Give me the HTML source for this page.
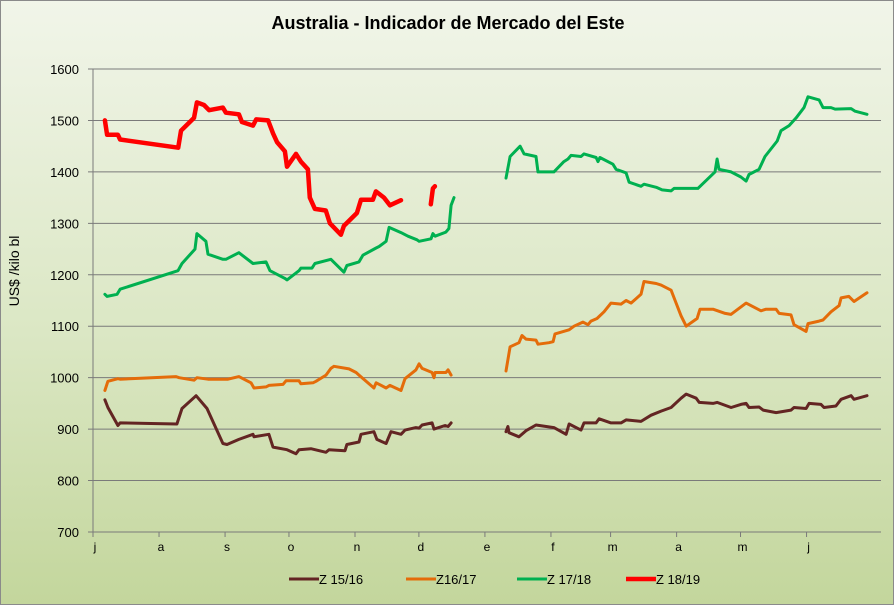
<!DOCTYPE html>
<html><head><meta charset="utf-8"><style>
body{margin:0;}
#c{width:894px;height:605px;position:relative;background:linear-gradient(#f1f5e9,#dbe7c4 55%,#c3d69c);border:1px solid #8a8a8a;box-sizing:border-box;font-family:"Liberation Sans",sans-serif;overflow:hidden}
</style></head><body>
<div id="c">
<svg id="s" width="894" height="605"></svg>
</div>
<script>
const monthLabels=["j","a","s","o","n","d","e","f","m","a","m","j"];
const monthStartDays=[0,31,62,92,123,153,184,215,243,274,304,335];
const yTicks=[700,800,900,1000,1100,1200,1300,1400,1500,1600];
const seriesNames=["Z 15/16","Z16/17","Z 17/18","Z 18/19"];
const seriesColors=["#632523","#e46c0a","#00b050","#ff0000"];
const z1516Days=[5.6,7,11.7,12.7,27.2,39.4,41.8,48.4,53.5,61,62.9,68.5,75.1,75.6,82.6,84.5,91.1,95.3,96.7,102.3,109.4,110.8,118.3,119.2,124.9,125.8,131.9,133.3,137.6,139.9,144.6,146.5,151.6,153.1,154.5,159.2,160.1,165.3,166.7,168.1,null,193.9,194.8,195.3,200,203.3,208,216.4,222.1,223.5,229.1,230.5,236.2,237.6,243.2,247.9,250.3,257.3,262,266.7,271.4,276.1,278.5,283.2,284.6,291.1,293,299.6,304.2,306.6,308,312.7,314.6,320.7,327.7,329.1,334.8,336.2,341.8,343.2,348.8,351.2,355.9,357.3,363.4];
const z1516Vals=[957,942,907,912,911,910,940,965,940,872,870,880,890,885,890,865,860,852,860,862,855,860,858,870,875,890,895,880,872,895,890,898,903,902,908,912,900,907,905,912,null,895,905,893,885,897,908,903,890,910,898,912,912,920,912,912,918,915,927,935,942,960,968,960,952,950,952,942,948,950,942,943,937,932,937,942,940,950,948,942,945,958,965,958,965];
const z1617Days=[5.6,7,11.7,12.7,39,40.4,47.4,48.8,54,63.4,68.5,74.2,75.6,81.2,82.6,89.2,90.6,96.7,97.6,103.3,104.7,109.4,111.7,113.1,120.2,123.5,124.9,131.9,132.9,137.6,139.4,144.6,146.5,151.6,153.1,154.5,159.2,160.1,160.6,165.7,166.7,168.1,null,193.9,195.8,200,201.4,203.3,208,208.9,214.1,216,216.9,223.5,225.8,230,232.4,233.8,236.6,239.9,243.2,247.9,250.3,252.6,257.3,258.7,264.4,266.7,271.4,273.3,276.1,278.5,283.6,285,291.1,296.8,299.5,306.6,313.6,316,320.7,322.1,327.7,329.1,334.8,335.7,340.9,342.7,346.5,350.3,351.2,354.9,357.3,363.4];
const z1617Vals=[975,993,998,997,1002,1000,995,1000,997,997,1002,990,980,982,985,987,994,994,988,990,993,1005,1018,1022,1017,1010,1005,980,990,980,985,975,998,1015,1027,1018,1010,1000,1010,1010,1015,1005,null,1013,1060,1068,1082,1075,1073,1065,1068,1070,1085,1093,1100,1108,1103,1110,1115,1128,1145,1143,1150,1145,1162,1187,1183,1180,1170,1150,1120,1100,1115,1133,1133,1125,1123,1145,1130,1133,1133,1125,1122,1103,1090,1105,1110,1112,1128,1140,1155,1158,1148,1165];
const z1718Days=[5.6,6.6,11.3,12.7,39.9,41.8,47.9,48.8,53,54,61,62.4,68.5,75.1,81.2,83.1,90.1,91.1,96.7,97.6,102.8,104.2,111.7,117.8,119.2,124.9,126.7,132.9,134.3,137.6,139,144.6,147.9,152.1,153.1,158.7,159.6,160.6,165.7,167.1,168.1,169.5,null,193.9,195.8,200.5,202.4,208,208.9,216.4,221.1,223,224.4,229.1,230.5,236.2,237.1,238,244.1,245.6,250.3,251.7,257.3,258.7,264.4,267.2,271.4,272.8,284,292,293,293.9,299.6,304.2,306.6,308,312.7,315.5,321.2,323,326.8,330.1,333.8,335.7,340.9,342.7,346.5,348.4,355.9,357.8,363.4];
const z1718Vals=[1162,1158,1162,1172,1208,1222,1250,1280,1265,1240,1230,1230,1243,1222,1225,1208,1193,1190,1208,1213,1213,1222,1230,1205,1218,1225,1238,1252,1255,1265,1292,1282,1275,1268,1265,1270,1280,1275,1283,1290,1335,1350,null,1388,1430,1450,1435,1430,1400,1400,1420,1425,1432,1430,1435,1428,1420,1428,1415,1405,1398,1380,1372,1376,1370,1365,1363,1368,1368,1400,1425,1405,1400,1390,1382,1395,1405,1430,1460,1480,1490,1505,1525,1546,1540,1525,1525,1522,1523,1518,1512];
const z1819Days=[5.6,6.6,11.7,12.7,40,41.3,47.4,48.8,52.1,54.5,61,62.4,68.5,69.9,75.1,76.6,82.2,84.5,86.4,90.1,91.1,95.3,97.6,100.9,101.8,104.2,109.3,111.2,116.4,117.8,123.9,125.8,131.4,132.8,136.6,139.4,144.6,null,158.6,159.6,160.5];
const z1819Vals=[1500,1472,1472,1463,1447,1480,1505,1535,1530,1520,1525,1515,1512,1497,1490,1502,1500,1475,1458,1440,1410,1435,1420,1405,1350,1328,1325,1300,1278,1295,1320,1346,1346,1362,1350,1335,1345,null,1337,1368,1372];

const L=92,R=880,T=68,B=531;
const xs=d=>L+d*2.13;
const ys=v=>B-(v-700)*(B-T)/900;
const NS="http://www.w3.org/2000/svg";
const svg=document.getElementById('s');
function mk(t,a){const e=document.createElementNS(NS,t);for(const k in a)e.setAttribute(k,a[k]);svg.appendChild(e);return e;}
let e=mk('text',{x:447,y:28,'text-anchor':'middle','font-size':18,'font-weight':'bold',fill:'#000'});e.textContent="Australia - Indicador de Mercado del Este";

yTicks.forEach(v=>{
 const g=mk('line',{x1:L-5,x2:R,y1:ys(v),y2:ys(v),stroke:'#7a7a7a','stroke-width':1});
 
 const t=mk('text',{x:78,y:ys(v)+5,'text-anchor':'end','font-size':13,fill:'#000'});t.textContent=v;
 
});
let ax=mk('line',{x1:L,x2:L,y1:T,y2:B,stroke:'#7a7a7a'});

monthLabels.forEach((m,i)=>{
 const x=xs(monthStartDays[i]);
 const tk=mk('line',{x1:x,x2:x,y1:B,y2:B+5,stroke:'#7a7a7a'});
 
 const t=mk('text',{x:x+2,y:B+19,'text-anchor':'middle','font-size':12,fill:'#000'});t.textContent=m;
 
});
e=mk('text',{x:0,y:0,'text-anchor':'middle','font-size':14,fill:'#000',transform:'translate(18,270) rotate(-90)'});e.textContent="US$ /kilo bl";

const allDays=[z1516Days,z1617Days,z1718Days,z1819Days],allVals=[z1516Vals,z1617Vals,z1718Vals,z1819Vals];
const widths=[3,3,3,4.5];
allDays.forEach((ds,si)=>{
 const vs=allVals[si];let d="",pen=false;
 ds.forEach((x,i)=>{if(x===null||vs[i]===null){pen=false;return;}d+=(pen?"L":"M")+xs(x).toFixed(1)+","+ys(vs[i]).toFixed(1);pen=true;});
 const p=mk('path',{d:d,fill:'none',stroke:seriesColors[si],'stroke-width':widths[si],'stroke-linejoin':'round','stroke-linecap':'round'});
 
});
const legX=[288,405,516,625];
seriesNames.forEach((n,i)=>{
 const l=mk('line',{x1:legX[i],x2:legX[i]+30,y1:578,y2:578,stroke:seriesColors[i],'stroke-width':widths[i]});
 
 const t=mk('text',{x:legX[i]+30,y:583,'font-size':13,fill:'#000'});t.textContent=n;
 
});
</script>
</body></html>
